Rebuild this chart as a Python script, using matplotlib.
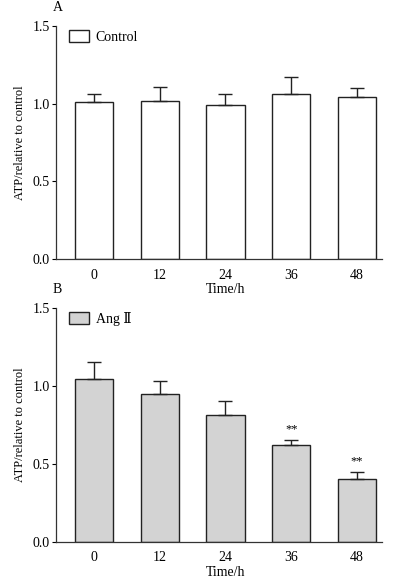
import numpy as np
import matplotlib
matplotlib.use("Agg")
import matplotlib.pyplot as plt
from matplotlib.patches import Patch

plt.rcParams['font.family'] = ['Liberation Serif', 'DejaVu Serif']

# data
time_labels = ['0', '12', '24', '36', '48']
control_mean = [1.01, 1.02, 0.99, 1.06, 1.04]
control_err = [0.05, 0.09, 0.07, 0.11, 0.06]
angii_mean = [1.04, 0.95, 0.81, 0.62, 0.40]
angii_err = [0.11, 0.08, 0.09, 0.035, 0.05]
angii_sig = ['', '', '', '**', '**']

fig = plt.figure(figsize=(3.99, 5.83), dpi=100)
axA = fig.add_axes([0.1404, 0.5557, 0.817, 0.3997])
axB = fig.add_axes([0.1404, 0.0708, 0.817, 0.4014])

x = np.arange(len(time_labels))


def draw_panel(ax, means, errs, color, label, letter, sig=None):
    ax.bar(x, means, width=0.58, color=color, edgecolor='#222222', linewidth=1.0, zorder=2)
    ax.errorbar(x, means, yerr=[np.zeros(len(errs)), errs], fmt='none',
                ecolor='#222222', elinewidth=1.0, capsize=5, capthick=1.0, zorder=3)
    if sig is not None:
        for xi, m, e, s in zip(x, means, errs, sig):
            if s:
                ax.text(xi, m + e + 0.03, s, ha='center', va='bottom', fontsize=9)
    ax.set_xlim(-0.576, 4.38)
    ax.set_ylim(0, 1.5)
    ax.set_yticks([0.0, 0.5, 1.0, 1.5])
    ax.set_yticklabels(['0.0', '0.5', '1.0', '1.5'], fontsize=10)
    ax.set_xticks(x)
    ax.set_xticklabels(time_labels, fontsize=10)
    ax.tick_params(axis='x', length=0, pad=7)
    ax.tick_params(axis='y', direction='out', length=3, width=0.8, pad=1.5)
    for s in ['top', 'right']:
        ax.spines[s].set_visible(False)
    for s in ['left', 'bottom']:
        ax.spines[s].set_linewidth(0.9)
        ax.spines[s].set_color('#333333')
    ax.set_ylabel('ATP/relative to control', fontsize=9, labelpad=5)
    ax.annotate('Time/h', xy=(2, 0), xycoords=('data', 'axes fraction'),
                xytext=(0, -17.5), textcoords='offset points', ha='center', va='top', fontsize=10)
    ax.text(-0.01, 1.05, letter, transform=ax.transAxes, ha='left', va='bottom', fontsize=10)
    h = Patch(facecolor=color, edgecolor='#222222', linewidth=1.0)
    ax.legend([h], [label], loc='upper left', bbox_to_anchor=(0.0, 1.035), frameon=False,
              fontsize=10, handlelength=1.45, handleheight=0.95, handletextpad=0.5)


draw_panel(axA, control_mean, control_err, 'white', 'Control', 'A')
draw_panel(axB, angii_mean, angii_err, '#d3d3d3', 'Ang Ⅱ', 'B', sig=angii_sig)

fig.savefig('out.png', dpi=100)
